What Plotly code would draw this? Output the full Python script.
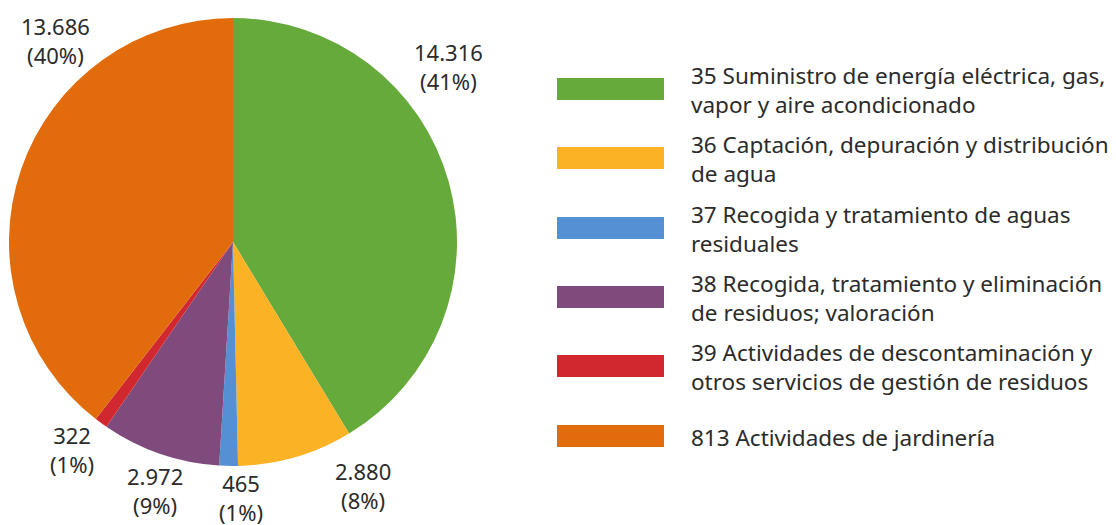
import plotly.graph_objects as go

categories = [
    "35 Suministro de energía eléctrica, gas,<br>vapor y aire acondicionado",
    "36 Captación, depuración y distribución<br>de agua",
    "37 Recogida y tratamiento de aguas<br>residuales",
    "38 Recogida, tratamiento y eliminación<br>de residuos; valoración",
    "39 Actividades de descontaminación y<br>otros servicios de gestión de residuos",
    "813 Actividades de jardinería",
]
values = [14316, 2880, 465, 2972, 322, 13686]
colors = ["#67AA3C", "#FBB225", "#5590D5", "#7F4A7C", "#D0282E", "#E26C0B"]

# label centres (pixels from top-left of the window) for the value labels
label_px = [(448, 67), (363, 485), (241, 497), (155, 490), (72, 449), (55, 41)]
legend_y_px = [89, 158, 228, 297, 366, 436]

W, H = 1116, 525
OFF = 8  # page body margin
FONT = "Noto Sans"
TXT = "#2b2b2b"


def px(x):
    return (x - OFF) / W


def py(y):
    return 1 - (y - OFF) / H


def fmt(v):
    return f"{v:,}".replace(",", ".")


total = sum(values)

fig = go.Figure()
fig.add_trace(go.Pie(
    labels=categories,
    values=values,
    marker=dict(colors=colors, line=dict(width=0)),
    sort=False,
    direction="clockwise",
    rotation=0,
    textinfo="none",
    showlegend=False,
    hoverinfo="skip",
    domain=dict(x=[px(9), px(457)], y=[py(466), py(18)]),
))

shapes = []
annotations = []
for (lx, ly), v in zip(label_px, values):
    annotations.append(dict(xref="paper", yref="paper", x=px(lx), y=py(ly),
                            text=f"{fmt(v)}<br>({round(100 * v / total)}%)",
                            showarrow=False, xanchor="center", yanchor="middle",
                            align="center",
                            font=dict(family=FONT, size=22, color=TXT)))

for cat, col, yc in zip(categories, colors, legend_y_px):
    shapes.append(dict(type="rect", xref="paper", yref="paper",
                       x0=px(557), x1=px(664),
                       y0=py(yc + 11), y1=py(yc - 11),
                       fillcolor=col, line=dict(width=0)))
    annotations.append(dict(xref="paper", yref="paper", x=px(689),
                            y=py(yc + 1),
                            text=cat, showarrow=False, xanchor="left",
                            yanchor="middle", align="left",
                            font=dict(family=FONT, size=22.5, color=TXT)))

fig.update_layout(
    width=W, height=H, autosize=False,
    margin=dict(l=0, r=0, t=0, b=0),
    paper_bgcolor="white", plot_bgcolor="white",
    shapes=shapes,
    annotations=annotations,
)

fig.write_html("out.html")
